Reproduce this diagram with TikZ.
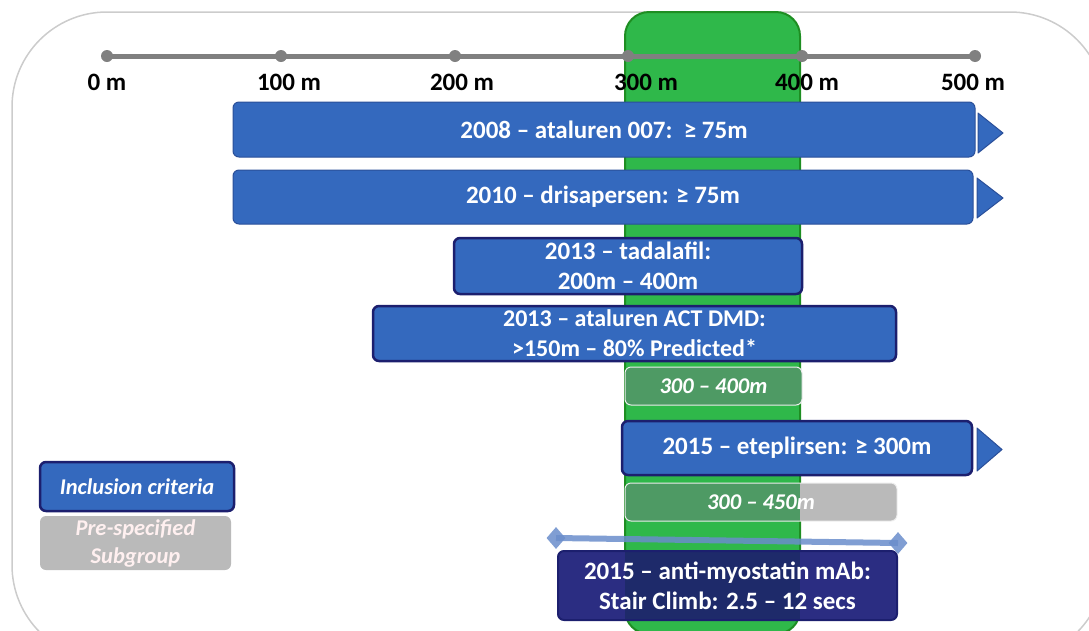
\documentclass[tikz,border=0pt]{standalone}
\usepackage{fontspec}
\setmainfont{Carlito}
\usetikzlibrary{shapes.geometric}
\definecolor{boxblue}{HTML}{3469BE}
\definecolor{boxedge}{HTML}{2A4F99}
\definecolor{navyedge}{HTML}{1C1F6E}
\definecolor{navy}{HTML}{2B2D82}
\definecolor{navygreen}{HTML}{1E2A6A}
\definecolor{bandgreen}{HTML}{2FB84A}
\definecolor{bandedge}{HTML}{1E8E22}
\definecolor{subgreen}{HTML}{4E9A64}
\definecolor{subgray}{HTML}{BABABA}
\definecolor{axisgray}{HTML}{808080}
\definecolor{framegray}{HTML}{CCCCCC}
\definecolor{diamblue}{HTML}{6A8DCB}
\tikzset{
  bluebox/.style={rectangle, rounded corners=6pt, fill=boxblue, draw=boxedge, line width=1pt,
     inner sep=0pt, text=white, font=\bfseries\fontsize{25}{30}\selectfont, align=center},
  strongbox/.style={bluebox, draw=navyedge, line width=2.5pt},
  subbox/.style={rectangle, rounded corners=6pt, draw=white!85!gray, line width=1pt,
     inner sep=0pt, text=white, font=\bfseries\itshape\fontsize{22.5}{26}\selectfont, align=center},
  tri/.style={fill=boxblue, draw=boxedge, line width=1pt, line join=round},
  axlabel/.style={font=\bfseries\fontsize{25}{28}\selectfont, text=black, inner sep=0pt},
  tick/.style={circle, fill=axisgray, inner sep=0pt, minimum size=12pt},
  diam/.style={diamond, fill=diamblue, opacity=0.85, inner sep=0pt, minimum width=19pt, minimum height=22pt}
}
\begin{document}
\begin{tikzpicture}[x=1pt,y=-1pt]
\useasboundingbox (0,0) rectangle (1089,630);
% frame
\begin{scope}
\clip (0,0) rectangle (1089,630);
\draw[framegray, line width=1.5pt, rounded corners=95pt] (12,12) rectangle (1105,660);
% green band
\draw[fill=bandgreen, draw=bandedge, line width=2pt, rounded corners=24pt] (625,12) rectangle (800,634);
\end{scope}
% axis
\draw[axisgray, line width=5pt] (107,56) -- (975,56);
\foreach \x/\n in {107/t0,281/t1,455/t2,628/t3,802/t4,975/t5}
  \node[tick] (\n) at (\x,56) {};
\node[axlabel] (l0) at (107,82) {0 m};
\node[axlabel] (l1) at (289,82) {100 m};
\node[axlabel] (l2) at (462,82) {200 m};
\node[axlabel] (l3) at (646,82) {300 m};
\node[axlabel] (l4) at (807,82) {400 m};
\node[axlabel] (l5) at (973,82) {500 m};
% boxes
\node[bluebox, minimum width=742pt, minimum height=55pt] (b1) at (604,129.5) {2008 – ataluren 007:\ \ ≥ 75m};
\draw[tri] (978,113) -- (1003,133) -- (978,153) -- cycle;
\node[bluebox, minimum width=740pt, minimum height=54pt] (b2) at (603,197) {2010 – drisapersen: ≥ 75m};
\draw[tri] (977,178) -- (1003,198) -- (977,218) -- cycle;
\node[strongbox, minimum width=348pt, minimum height=56pt] (b3) at (628,266) {2013 – tadalafil:\\200m – 400m};
\node[strongbox, minimum width=523pt, minimum height=55pt, font=\bfseries\fontsize{24}{30}\selectfont] (b4) at (634.5,333.5) {2013 – ataluren ACT DMD:\\>150m – 80\% Predicted*};
\node[subbox, fill=subgreen, minimum width=177pt, minimum height=38pt] (b5) at (713.5,386) {300 – 400m};
\node[strongbox, minimum width=350pt, minimum height=54pt] (b6) at (797,448) {2015 – eteplirsen: ≥ 300m};
\draw[tri] (977,428) -- (1002,449.5) -- (977,471) -- cycle;
% 300-450 box: gray with green where band lies
\begin{scope}
\clip[rounded corners=6pt] (625,483) rectangle (897,521);
\fill[subgray] (625,483) rectangle (897,521);
\fill[subgreen] (625,483) rectangle (800,521);
\end{scope}
\node[subbox, minimum width=272pt, minimum height=38pt] (b7) at (761,502) {300 – 450m};
% diamond line
\coordinate (dl) at (556,538);
\coordinate (dr) at (898,543);
\draw[diamblue, opacity=0.85, line width=6pt] (dl) -- (dr);
\node[diam] (dmL) at (dl) {};
\node[diam] (dmR) at (dr) {};
% anti-myostatin box
\begin{scope}
\clip[rounded corners=6pt] (558,551) rectangle (897,620);
\fill[navy] (558,551) rectangle (897,620);
\fill[navygreen] (625,551) rectangle (800,620);
\end{scope}
\node[rectangle, rounded corners=6pt, draw=navyedge, line width=2pt,
  minimum width=339pt, minimum height=69pt, text=white,
  font=\bfseries\fontsize{25}{30}\selectfont, align=center, inner sep=0pt] (b8) at (727.5,585.5)
  {2015 – anti-myostatin mAb:\\Stair Climb: 2.5 – 12 secs};
% legend
\node[strongbox, minimum width=194pt, minimum height=49pt, font=\bfseries\itshape\fontsize{22.5}{26}\selectfont] (leg1) at (137,486.5) {Inclusion criteria};
\node[subbox, fill=subgray, draw=none, minimum width=191pt, minimum height=54pt, text=white!94!red, font=\bfseries\itshape\fontsize{22.5}{28}\selectfont] (leg2) at (135.5,543) {Pre-specified\\Subgroup};
\end{tikzpicture}
\end{document}
